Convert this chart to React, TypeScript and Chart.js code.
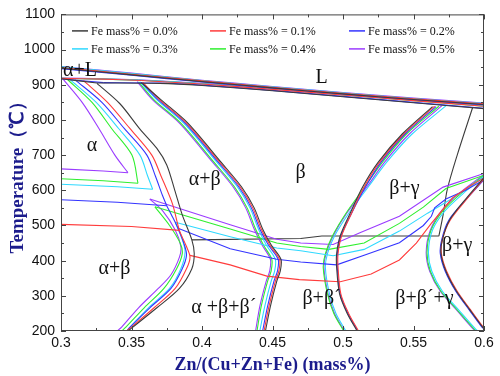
import React, { useEffect, useRef } from "react";
import { Chart, registerables } from "chart.js";

Chart.register(...registerables);

type P = [number, number];

const feLabels = [
  "Fe mass% = 0.0%",
  "Fe mass% = 0.1%",
  "Fe mass% = 0.2%",
  "Fe mass% = 0.3%",
  "Fe mass% = 0.4%",
  "Fe mass% = 0.5%",
];
const feColors = ["#3c3c3c", "#ff3c3c", "#3434ff", "#2fd9ff", "#2fef2f", "#9b3cff"];

const xTicks = [0.3, 0.35, 0.4, 0.45, 0.5, 0.55, 0.6];
const yTicks = [200, 300, 400, 500, 600, 700, 800, 900, 1000, 1100];

// Liquidus (upper edge of L band)
const liquidus: P[][] = [
  [[0.3, 947], [0.35, 928], [0.4, 909], [0.45, 891], [0.5, 874], [0.55, 858], [0.6, 844]],
  [[0.3, 949], [0.35, 930], [0.4, 911], [0.45, 893], [0.5, 876], [0.55, 860], [0.6, 846]],
  [[0.3, 946], [0.35, 927], [0.4, 908], [0.45, 890], [0.5, 873], [0.55, 857], [0.6, 843]],
  [[0.3, 951], [0.35, 932], [0.4, 912], [0.45, 894], [0.5, 877], [0.55, 861], [0.6, 847]],
  [[0.3, 950], [0.35, 931], [0.4, 911], [0.45, 893], [0.5, 876], [0.55, 860], [0.6, 845]],
  [[0.3, 952], [0.35, 933], [0.4, 913], [0.45, 895], [0.5, 878], [0.55, 862], [0.6, 848]],
];

// Beta solidus (lower edge of L band)
const solidusBeta: P[][] = [
  [[0.3255, 905], [0.37, 904], [0.4, 898], [0.45, 883], [0.5, 866], [0.55, 849], [0.6, 832]],
  [[0.357, 912], [0.4, 902], [0.45, 887], [0.5, 871], [0.55, 855], [0.6, 839]],
  [[0.33, 906], [0.37, 905], [0.4, 899], [0.45, 884], [0.5, 867], [0.55, 850], [0.6, 833]],
  [[0.357, 913], [0.4, 903], [0.45, 888], [0.5, 872], [0.55, 856], [0.6, 840]],
  [[0.356, 913], [0.4, 903], [0.45, 888], [0.5, 871], [0.55, 855], [0.6, 839]],
  [[0.355, 914], [0.4, 904], [0.45, 889], [0.5, 873], [0.55, 857], [0.6, 841]],
];

// Alpha solidus (lower edge of alpha+L)
const solidusAlpha: P[][] = [
  [[0.3, 917], [0.3255, 905]],
  [[0.3, 918], [0.33, 916], [0.357, 912]],
  [[0.3, 917], [0.33, 906]],
  [[0.3, 918], [0.33, 916], [0.357, 913]],
  [[0.3, 918], [0.33, 916], [0.356, 913]],
  [[0.3, 919], [0.33, 917], [0.355, 914]],
];

// Alpha / alpha+beta boundary, upper part
const alphaUpper: P[][] = [
  [[0.3255, 904], [0.3418, 846], [0.356, 774], [0.368, 719], [0.375, 672], [0.3807, 600], [0.386, 530],
   [0.3928, 459], [0.3945, 420], [0.3928, 377], [0.384, 321], [0.368, 266], [0.351, 211], [0.3475, 200]],
  [[0.316, 912], [0.333, 850], [0.349, 775], [0.3644, 700], [0.371, 640], [0.379, 562], [0.384, 486],
   [0.389, 440], [0.3915, 410], [0.389, 377], [0.381, 321], [0.366, 266], [0.35, 211], [0.3465, 200]],
  [[0.31, 914], [0.329, 850], [0.345, 775], [0.3609, 700], [0.367, 640], [0.372, 585], [0.375, 556]],
  [[0.306, 916], [0.325, 850], [0.341, 775], [0.356, 700], [0.3615, 640], [0.365, 603]],
  [[0.304, 917], [0.322, 850], [0.336, 775], [0.3503, 700], [0.3546, 620]],
  [[0.301, 918], [0.315, 850], [0.327, 775], [0.3382, 700], [0.3475, 650]],
];

// Alpha+beta / alpha+beta+beta' boundary, lower part
const alphaLower: (P[] | null)[] = [
  null,
  null,
  [[0.375, 556], [0.379, 525], [0.383, 492], [0.3875, 445], [0.389, 415], [0.386, 377], [0.378, 321],
   [0.363, 266], [0.349, 211], [0.3465, 200]],
  [[0.381, 509], [0.386, 460], [0.388, 425], [0.385, 377], [0.377, 321], [0.362, 266], [0.349, 211], [0.3465, 200]],
  [[0.3666, 553], [0.377, 500], [0.3845, 450], [0.386, 420], [0.382, 377], [0.373, 321], [0.359, 266],
   [0.346, 211], [0.343, 200]],
  [[0.363, 575], [0.372, 542], [0.381, 487], [0.385, 440], [0.384, 410], [0.378, 360], [0.369, 321],
   [0.355, 266], [0.343, 211], [0.3397, 200]],
];

// Fe-phase boundary, left of the alpha curve
const feLeft: (P[] | null)[] = [
  null,
  [[0.3, 503], [0.35, 497], [0.384, 486]],
  [[0.3, 573], [0.34, 566], [0.375, 556]],
  [[0.3, 617], [0.34, 610], [0.365, 603]],
  [[0.3, 633], [0.33, 627], [0.3546, 620]],
  [[0.3, 661], [0.33, 655], [0.3475, 650]],
];

// Fe-phase boundary, crossing the diagram
const feRight: (P[] | null)[] = [
  null,
  [[0.3915, 415], [0.42, 388], [0.446, 356], [0.469, 346], [0.498, 340], [0.52, 362], [0.54, 402],
   [0.552, 450], [0.5625, 505], [0.5776, 578], [0.59, 612], [0.6, 635]],
  [[0.383, 492], [0.42, 434], [0.453, 404], [0.47, 396], [0.4955, 388], [0.517, 418], [0.54, 451],
   [0.557, 500], [0.5627, 526], [0.565, 550], [0.573, 575], [0.587, 600], [0.6, 630]],
  [[0.381, 509], [0.42, 468], [0.453, 436], [0.47, 428], [0.493, 414], [0.515, 432], [0.54, 484],
   [0.56, 535], [0.578, 578], [0.6, 638]],
  [[0.3666, 553], [0.42, 490], [0.453, 450], [0.47, 440], [0.49, 432], [0.515, 450], [0.54, 506],
   [0.557, 552], [0.573, 605], [0.6, 643]],
  [[0.363, 575], [0.42, 502], [0.453, 461], [0.47, 450], [0.493, 446], [0.512, 479], [0.54, 526],
   [0.571, 609], [0.6, 648]],
];

// alpha+beta / beta boundary
const betaCurve: P[][] = [
  [[0.357, 906], [0.371, 857], [0.39, 791], [0.4135, 680], [0.428, 610], [0.437, 550], [0.443, 490],
   [0.449, 445], [0.456, 404], [0.4555, 370], [0.453, 341], [0.4485, 270], [0.445, 200]],
  [[0.358, 907], [0.37, 857], [0.389, 791], [0.4125, 680], [0.427, 610], [0.436, 550], [0.442, 490],
   [0.448, 445], [0.455, 404], [0.4545, 370], [0.452, 341], [0.4475, 270], [0.444, 200]],
  [[0.357, 907], [0.369, 857], [0.388, 791], [0.4115, 680], [0.426, 610], [0.435, 550], [0.441, 490],
   [0.447, 445], [0.454, 404], [0.4535, 370], [0.451, 341], [0.4465, 270], [0.443, 200]],
  [[0.356, 908], [0.368, 857], [0.387, 791], [0.4105, 680], [0.425, 610], [0.434, 550], [0.44, 490],
   [0.4455, 445], [0.452, 404], [0.4515, 370], [0.449, 341], [0.4445, 270], [0.441, 200]],
  [[0.355, 908], [0.366, 857], [0.385, 791], [0.4085, 680], [0.423, 610], [0.432, 550], [0.438, 490],
   [0.4435, 445], [0.4495, 404], [0.449, 370], [0.4465, 341], [0.442, 270], [0.439, 200]],
  [[0.354, 909], [0.365, 857], [0.384, 791], [0.4075, 680], [0.422, 610], [0.431, 550], [0.437, 490],
   [0.4425, 445], [0.4485, 404], [0.448, 370], [0.4455, 341], [0.441, 270], [0.438, 200]],
];

// beta / beta+gamma and beta+beta' boundary
const betaGammaCurve: P[][] = [
  [[0.5635, 838], [0.542, 760], [0.525, 680], [0.514, 610], [0.505, 534], [0.498, 470], [0.4955, 420],
   [0.4955, 380], [0.4976, 305], [0.503, 250], [0.51, 200]],
  [[0.565, 839], [0.543, 760], [0.526, 680], [0.515, 610], [0.506, 534], [0.499, 470], [0.4965, 420],
   [0.4965, 380], [0.4985, 305], [0.504, 250], [0.511, 200]],
  [[0.566, 838], [0.544, 760], [0.527, 680], [0.516, 610], [0.506, 534], [0.4985, 470], [0.496, 420],
   [0.496, 380], [0.498, 305], [0.5035, 250], [0.5105, 200]],
  [[0.573, 840], [0.549, 760], [0.531, 680], [0.518, 610], [0.504, 534], [0.494, 470], [0.489, 420],
   [0.4875, 380], [0.4905, 305], [0.495, 250], [0.502, 200]],
  [[0.568, 839], [0.545, 760], [0.528, 680], [0.5155, 610], [0.502, 534], [0.4925, 470], [0.4875, 420],
   [0.486, 380], [0.489, 305], [0.4935, 250], [0.5005, 200]],
  [[0.57, 840], [0.547, 760], [0.5295, 680], [0.517, 610], [0.5025, 534], [0.493, 470], [0.488, 420],
   [0.4865, 380], [0.4895, 305], [0.494, 250], [0.501, 200]],
];

// beta+gamma / gamma boundary (right)
const gammaCurve: P[][] = [
  [[0.6, 636], [0.588, 580], [0.5755, 515], [0.5705, 460], [0.5695, 420], [0.573, 370], [0.5805, 313],
   [0.59, 260], [0.599, 211], [0.6, 208]],
  [[0.6, 633], [0.588, 576], [0.576, 515], [0.5705, 460], [0.5698, 420], [0.5735, 370], [0.581, 313],
   [0.5905, 260], [0.5995, 211], [0.6005, 208]],
  [[0.6, 630], [0.5875, 575], [0.575, 515], [0.57, 460], [0.569, 420], [0.5725, 370], [0.58, 313],
   [0.5895, 260], [0.5985, 211], [0.6, 206]],
  [[0.6, 640], [0.585, 590], [0.572, 540], [0.5635, 487], [0.5606, 424], [0.563, 370], [0.5705, 313],
   [0.582, 260], [0.5946, 203], [0.596, 200]],
  [[0.6, 642], [0.584, 592], [0.571, 542], [0.5625, 487], [0.5596, 424], [0.562, 370], [0.5695, 313],
   [0.581, 260], [0.5936, 203], [0.595, 200]],
  [[0.6, 645], [0.5835, 595], [0.5705, 545], [0.562, 487], [0.559, 424], [0.5615, 370], [0.569, 313],
   [0.5805, 260], [0.593, 203], [0.5945, 200]],
];

// Fe = 0 invariant line and beta+gamma boundary
const blackEutectoid: P[] = [[0.3928, 459], [0.47, 463], [0.485, 470], [0.568, 470]];
const blackGammaLine: P[] = [[0.568, 470], [0.571, 530], [0.574, 603], [0.581, 700], [0.592, 836]];

const regionText = ["α+L", "L", "α", "α+β", "β", "β+γ", "β+γ", "α+β", "α +β+β´", "β+β´", "β+β´+γ"];
const regionX = [0.3135, 0.4848, 0.322, 0.402, 0.47, 0.5436, 0.581, 0.338, 0.4155, 0.4848, 0.5578];
const regionT = [940, 920, 727, 631, 650, 603, 443, 377, 266, 291, 291];

export default function App() {
  const ref = useRef<HTMLCanvasElement | null>(null);

  useEffect(() => {
    if (!ref.current) return;
    const datasets: any[] = [];
    const add = (pts: P[] | null, k: number, tension: number) => {
      if (!pts) return;
      datasets.push({
        data: pts.map(([x, y]) => ({ x, y })),
        borderColor: feColors[k],
        borderWidth: 1.1,
        pointRadius: 0,
        showLine: true,
        fill: false,
        tension,
      });
    };
    for (let k = 0; k < 6; k++) {
      add(liquidus[k], k, 0.3);
      add(solidusBeta[k], k, 0.3);
      add(solidusAlpha[k], k, 0.2);
      add(alphaUpper[k], k, 0.3);
      add(alphaLower[k], k, 0.3);
      add(feLeft[k], k, 0);
      add(feRight[k], k, 0);
      add(betaCurve[k], k, 0.3);
      add(betaGammaCurve[k], k, 0.3);
      add(gammaCurve[k], k, 0.3);
    }
    add(blackEutectoid, 0, 0);
    add(blackGammaLine, 0, 0.3);

    const framePlugin = {
      id: "frameTicks",
      afterDraw(chart: any) {
        const { ctx, chartArea: a, scales } = chart;
        const xs = scales.x;
        const ys = scales.y;
        ctx.save();
        ctx.strokeStyle = "#444";
        ctx.lineWidth = 1;
        ctx.strokeRect(a.left + 0.5, a.top + 0.5, a.right - a.left - 1, a.bottom - a.top - 1);
        ctx.beginPath();
        for (let t = 200; t <= 1100; t += 50) {
          const y = Math.round(ys.getPixelForValue(t)) + 0.5;
          const len = t % 100 === 0 ? 5 : 3;
          ctx.moveTo(a.left, y);
          ctx.lineTo(a.left + len, y);
          ctx.moveTo(a.right, y);
          ctx.lineTo(a.right - len, y);
        }
        for (let i = 0; i <= 12; i++) {
          const v = 0.3 + i * 0.025;
          const x = Math.round(xs.getPixelForValue(v)) + 0.5;
          const len = i % 2 === 0 ? 5 : 3;
          ctx.moveTo(x, a.bottom);
          ctx.lineTo(x, a.bottom - len);
          ctx.moveTo(x, a.top);
          ctx.lineTo(x, a.top + len);
        }
        ctx.stroke();

        // region labels
        ctx.fillStyle = "#111";
        ctx.font = '20px "Liberation Serif"';
        ctx.textAlign = "center";
        ctx.textBaseline = "middle";
        regionText.forEach((t, i) => {
          ctx.fillText(t, xs.getPixelForValue(regionX[i]), ys.getPixelForValue(regionT[i]));
        });

        // legend
        const colX = [11, 149, 288];
        const rowY = [16, 34];
        ctx.font = '12px "Liberation Serif"';
        ctx.textAlign = "left";
        feLabels.forEach((lab, k) => {
          const lx = a.left + colX[k % 3];
          const ly = a.top + rowY[Math.floor(k / 3)];
          ctx.strokeStyle = feColors[k];
          ctx.lineWidth = 1.5;
          ctx.beginPath();
          ctx.moveTo(lx, ly + 0.5);
          ctx.lineTo(lx + 16, ly + 0.5);
          ctx.stroke();
          ctx.fillStyle = "#111";
          ctx.fillText(lab, lx + 19, ly + 1);
        });
        ctx.restore();
      },
    };

    const titleColor = "#1c1c8c";
    const chart = new Chart(ref.current, {
      type: "scatter",
      data: { datasets },
      options: {
        animation: false,
        responsive: true,
        maintainAspectRatio: false,
        layout: { padding: { top: 5, right: 16, left: 0, bottom: 0 }, autoPadding: false },
        plugins: { legend: { display: false }, tooltip: { enabled: false } },
        scales: {
          x: {
            type: "linear",
            min: 0.3,
            max: 0.6,
            afterBuildTicks: (s: any) => {
              s.ticks = xTicks.map((value) => ({ value }));
            },
            afterFit: (s: any) => {
              s.height = 45;
            },
            ticks: {
              autoSkip: false,
              maxRotation: 0,
              padding: 4,
              color: "#111",
              font: { family: "Liberation Sans", size: 14 },
              callback: (v: any) => String(v),
            },
            grid: { display: false, drawTicks: false },
            border: { display: false },
            title: {
              display: true,
              text: "Zn/(Cu+Zn+Fe) (mass%)",
              color: titleColor,
              font: { family: "Liberation Serif", size: 18, weight: "bold" },
              padding: { top: 0, bottom: 0 },
            },
          },
          y: {
            type: "linear",
            min: 200,
            max: 1100,
            afterBuildTicks: (s: any) => {
              s.ticks = yTicks.map((value) => ({ value }));
            },
            afterFit: (s: any) => {
              s.width = 61;
            },
            ticks: {
              autoSkip: false,
              padding: 6,
              color: "#111",
              font: { family: "Liberation Sans", size: 14 },
              callback: (v: any) => String(v),
            },
            grid: { display: false, drawTicks: false },
            border: { display: false },
            title: {
              display: true,
              text: "Temperature（℃）",
              color: titleColor,
              font: { family: "Liberation Serif", size: 19, weight: "bold" },
              padding: { top: 7, bottom: 0 },
            },
          },
        },
      },
      plugins: [framePlugin],
    } as any);
    return () => chart.destroy();
  }, []);

  return (
    <div style={{ position: "fixed", left: 0, top: 0, width: 500, height: 376, background: "#fff" }}>
      <canvas ref={ref} style={{ display: "block" }} />
    </div>
  );
}
